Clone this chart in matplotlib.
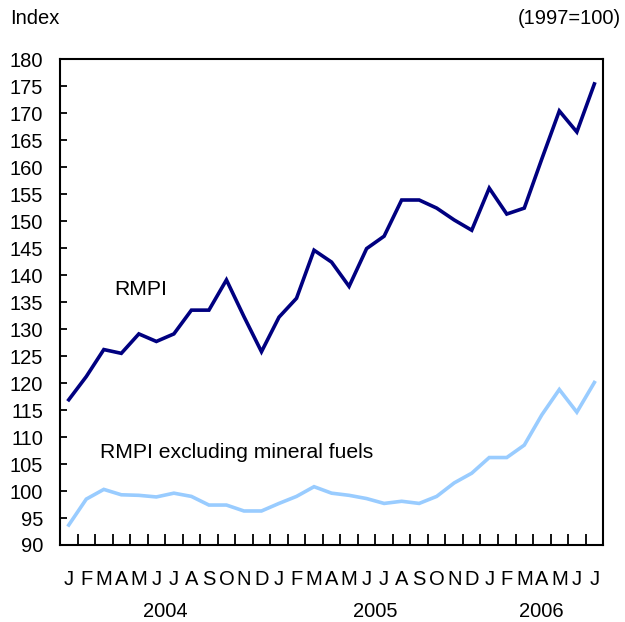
import matplotlib
matplotlib.use("Agg")
import matplotlib.pyplot as plt
import matplotlib.transforms as mtransforms
import numpy as np

plt.rcParams['font.family'] = ['Liberation Sans', 'DejaVu Sans']

# months Jan 2004 .. Jul 2006
months = list("JFMAMJJASOND") * 2 + list("JFMAMJJ")
years = ["2004", "2005", "2006"]
year_centers = [5.5, 17.5, 27.0]   # middle of each year's months

rmpi = [116.9, 121.2, 126.2, 125.5, 129.1, 127.7, 129.1, 133.5, 133.5, 139.1,
        132.3, 125.8, 132.2, 135.7, 144.6, 142.4, 137.9, 144.9, 147.2, 153.9,
        153.9, 152.4, 150.2, 148.3, 156.1, 151.3, 152.4, 161.5, 170.4, 166.5,
        175.4]
rmpi_ex_fuels = [93.7, 98.5, 100.3, 99.3, 99.2, 98.9, 99.6, 99.0, 97.4, 97.4,
                 96.3, 96.3, 97.7, 99.0, 100.8, 99.6, 99.2, 98.6, 97.7, 98.1,
                 97.7, 99.0, 101.5, 103.3, 106.2, 106.2, 108.5, 114.1, 118.8,
                 114.6, 120.1]

x = np.arange(len(months))

fig = plt.figure(figsize=(6.25, 6.22), dpi=100)
ax = fig.add_axes([0.096, 0.1238, 0.869, 0.7812])

ax.plot(x, rmpi, color="#000080", lw=2.6, solid_joinstyle="miter")
ax.plot(x, rmpi_ex_fuels, color="#99ccff", lw=2.6, solid_joinstyle="miter")

ax.set_xlim(-0.5, len(months) - 0.5)
ax.set_ylim(90, 180)
ax.set_yticks(np.arange(90, 181, 5))
ax.tick_params(axis="y", direction="in", length=5, width=1.3, labelsize=14.5, pad=12)

ax.set_xticks(x)
ax.set_xticklabels(months)
ax.set_xticks(np.arange(0.5, len(months) - 1, 1), minor=True)
ax.tick_params(axis="x", which="major", length=0, labelsize=14.5, pad=18)
ax.tick_params(axis="x", which="minor", direction="in", length=8, width=1.3)

for s in ax.spines.values():
    s.set_linewidth(1.5)

trans = mtransforms.blended_transform_factory(ax.transData, fig.transFigure)
for yr, xc in zip(years, year_centers):
    ax.text(xc, 0.017, yr, transform=trans, ha="center", va="center", fontsize=14.5)

ax.text(2.6, 137.4, "RMPI", fontsize=15.2, ha="left", va="center")
ax.text(1.8, 107.1, "RMPI excluding mineral fuels", fontsize=15.2, ha="left", va="center")

fig.text(0.016, 0.97, "Index", fontsize=14.5, ha="left", va="center")
fig.text(0.993, 0.97, "(1997=100)", fontsize=14.5, ha="right", va="center")

fig.savefig("out.png", dpi=100)
